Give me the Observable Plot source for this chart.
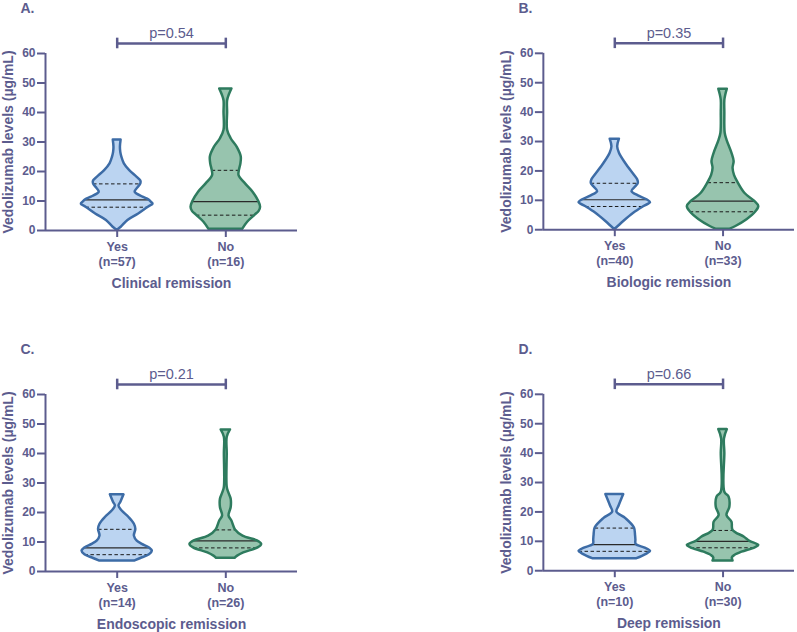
<!DOCTYPE html>
<html><head><meta charset="utf-8">
<script src="https://cdn.jsdelivr.net/npm/d3@7"></script>
<script src="https://cdn.jsdelivr.net/npm/@observablehq/plot@0.6"></script>
<style>
body{margin:0;background:#fff;width:797px;height:632px;overflow:hidden;position:relative;font-family:"Liberation Sans",Arial,sans-serif;}
.panel{position:absolute;}
</style></head><body>
<div id="pA" class="panel" style="left:0;top:0"></div>
<div id="pB" class="panel" style="left:498px;top:0"></div>
<div id="pC" class="panel" style="left:0;top:341px"></div>
<div id="pD" class="panel" style="left:498px;top:341px"></div>
<script>
// ---- data ----
const categories = ["Yes", "No"];
const panelLetters = ["A.", "B.", "C.", "D."];
const panelTitles = ["Clinical remission", "Biologic remission", "Endoscopic remission", "Deep remission"];
const pValues = ["0.54", "0.35", "0.21", "0.66"];
const nYes = [57, 40, 14, 10];
const nNo = [16, 33, 26, 30];
const yTicks = [0, 10, 20, 30, 40, 50, 60];
const yTitle = "Vedolizumab levels (µg/mL)";

// violin outlines: [level (µg/mL), relative density width]
const violinA_yes = [[0,0],[1.2,0.12],[3.4,0.3],[5.6,0.6],[7.9,0.87],[8.9,1.0],[9.6,0.95],[10.4,0.88],[11.3,0.72],[13.0,0.5],[14.2,0.56],[15.8,0.66],[16.8,0.66],[18.1,0.55],[20.3,0.35],[22.6,0.2],[24.9,0.13],[26.5,0.1],[28.2,0.09],[30.7,0.11]];
const violinA_no = [[0.4,0.47],[2.8,0.61],[5.2,0.82],[6.5,0.93],[7.9,0.97],[9.8,0.92],[13.0,0.76],[15.8,0.55],[18.6,0.37],[20.4,0.38],[22.5,0.42],[25.0,0.43],[28.2,0.32],[31.1,0.15],[34,0.05],[40,0.05],[44,0.05],[46,0.1],[48,0.17]];
const violinB_yes = [[0,0],[2.8,0.25],[5.6,0.53],[7.9,0.82],[9.2,1.0],[10.2,0.9],[11.5,0.66],[13,0.48],[14.5,0.58],[15.8,0.66],[17,0.64],[18.5,0.55],[22.6,0.3],[26,0.13],[28.2,0.08],[30.8,0.13]];
const violinB_no = [[0.2,0.2],[1.1,0.36],[3.4,0.67],[6.1,0.92],[7.9,1.0],[9.7,0.88],[12.4,0.61],[16.0,0.42],[18.5,0.32],[20.9,0.28],[23.2,0.31],[26,0.25],[30.5,0.11],[32.8,0.06],[40,0.05],[44,0.05],[46,0.08],[47.8,0.12]];
const violinC_yes = [[3.6,0.5],[4.4,0.66],[5.7,0.9],[6.9,0.98],[8.0,0.9],[9.2,0.7],[10.3,0.56],[12.0,0.48],[14.3,0.52],[16.0,0.48],[18.3,0.33],[20.5,0.14],[22.2,0.05],[23.4,0.1],[26.0,0.19]];
const violinC_no = [[4.5,0.26],[5.2,0.33],[6.3,0.5],[8.0,0.9],[9.2,1.0],[10.4,0.88],[12.0,0.48],[14.1,0.27],[17.1,0.17],[18.8,0.09],[21.7,0.15],[24.5,0.15],[26.8,0.08],[28.5,0.04],[40,0.04],[45.5,0.04],[48,0.13]];
const violinD_yes = [[4.1,0.62],[5.5,0.87],[6.6,1.0],[7.7,0.85],[8.9,0.6],[10.5,0.59],[12,0.58],[14.5,0.55],[17.7,0.31],[19.9,0.06],[22,0.12],[25.9,0.25]];
const violinD_no = [[3.3,0.28],[4.4,0.26],[5.2,0.33],[6.3,0.53],[7.8,0.9],[8.6,1.0],[10.0,0.75],[11.4,0.6],[13.7,0.28],[16.5,0.25],[18.8,0.11],[21.6,0.19],[25,0.17],[26.7,0.05],[40,0.05],[44.9,0.04],[48,0.12]];

// quartiles [Q1, median, Q3]
const quartA_yes = [7.9, 10.4, 15.8], quartA_no = [5.2, 9.8, 20.4];
const quartB_yes = [7.9, 10.2, 15.8], quartB_no = [6.1, 9.7, 16.0];
const quartC_yes = [5.7, 8.0, 14.3], quartC_no = [8.0, 10.4, 14.1];
const quartD_yes = [6.6, 8.9, 14.5], quartD_no = [7.8, 10.0, 13.7];

// ---- styling ----
const ink = "#5c5c8e";
const fills = ["#bbd4f1", "#97c4ae"];
const strokes = ["#3d6ca6", "#2e7b5e"];
const xDomain = [-0.66, 1.66];
const HW = 0.33; // max half width in category units
const font = "'Liberation Sans', Arial, sans-serif";

const panels = [
  {id: "pA", v: [violinA_yes, violinA_no], q: [quartA_yes, quartA_no]},
  {id: "pB", v: [violinB_yes, violinB_no], q: [quartB_yes, quartB_no]},
  {id: "pC", v: [violinC_yes, violinC_no], q: [quartC_yes, quartC_no]},
  {id: "pD", v: [violinD_yes, violinD_no], q: [quartD_yes, quartD_no]}
];

function widthAt(profile, level) {
  const hit = profile.find(p => p[0] === level);
  return hit ? hit[1] : 0;
}

panels.forEach((p, k) => {
  const labels = [`${categories[0]}\n(n=${nYes[k]})`, `${categories[1]}\n(n=${nNo[k]})`];
  const marks = [];
  p.v.forEach((prof, i) => {
    const rows = prof.map(([v, w]) => ({v, w}));
    marks.push(Plot.areaX(rows, {y: "v", x1: d => i - d.w * HW, x2: d => i + d.w * HW, curve: "catmull-rom", fill: fills[i], stroke: "none"}));
    const q = p.q[i];
    const qRows = q.map((v, j) => ({v, j, w: widthAt(prof, v)}));
    marks.push(Plot.ruleY(qRows.filter(d => d.j === 1), {y: "v", x1: d => i - d.w * HW, x2: d => i + d.w * HW, stroke: "#2a2a2a", strokeWidth: 1.2}));
    marks.push(Plot.ruleY(qRows.filter(d => d.j !== 1), {y: "v", x1: d => i - d.w * HW, x2: d => i + d.w * HW, stroke: "#1a1a1a", strokeWidth: 1, strokeDasharray: "3.5,2.5"}));
    marks.push(Plot.areaX(rows, {y: "v", x1: d => i - d.w * HW, x2: d => i + d.w * HW, curve: "catmull-rom", fill: "none", stroke: strokes[i], strokeWidth: 2.5, strokeLinejoin: "round"}));
  });
  marks.push(
    Plot.ruleX([xDomain[0]], {stroke: ink, strokeWidth: 2}),
    Plot.ruleY([0], {stroke: ink, strokeWidth: 2}),
    Plot.axisY({ticks: yTicks, tickSize: 8, tickPadding: 2, fontSize: 12, fontWeight: "bold", strokeWidth: 2, label: null, stroke: ink, fill: ink}),
    Plot.axisX({ticks: [0, 1], tickSize: 7, tickPadding: 3, tickFormat: i => labels[i], fontSize: 12.5, fontWeight: "bold", lineHeight: 1.2, strokeWidth: 2, label: null, stroke: ink, fill: ink}),
    Plot.text([panelTitles[k]], {x: 0.5, y: 0, dy: 53, fontSize: 14, fontWeight: "bold", fill: ink}),
    Plot.text([yTitle], {frameAnchor: "left", dx: -37, rotate: -90, textAnchor: "middle", fontSize: 14, fontWeight: "bold", fill: ink}),
    Plot.text([panelLetters[k]], {x: xDomain[0], y: 60, dx: -25, dy: -45, textAnchor: "start", fontSize: 14, fontWeight: "bold", fill: ink}),
    Plot.text(["p=" + pValues[k]], {x: 0.5, y: 60, dy: -20, fontSize: 14.5, fill: ink}),
    Plot.ruleY([63.4], {x1: 0, x2: 1, stroke: ink, strokeWidth: 2.5}),
    Plot.ruleX([0, 1], {y1: 61.6, y2: 65.2, stroke: ink, strokeWidth: 2.5})
  );
  const chart = Plot.plot({
    width: 300, height: 291,
    marginLeft: 45, marginRight: 3, marginTop: 53, marginBottom: 61,
    style: {fontFamily: font, color: ink, background: "transparent", overflow: "visible"},
    x: {domain: xDomain, axis: null},
    y: {domain: [0, 60], axis: null},
    marks
  });
  document.getElementById(p.id).appendChild(chart);
});
</script>
</body></html>
